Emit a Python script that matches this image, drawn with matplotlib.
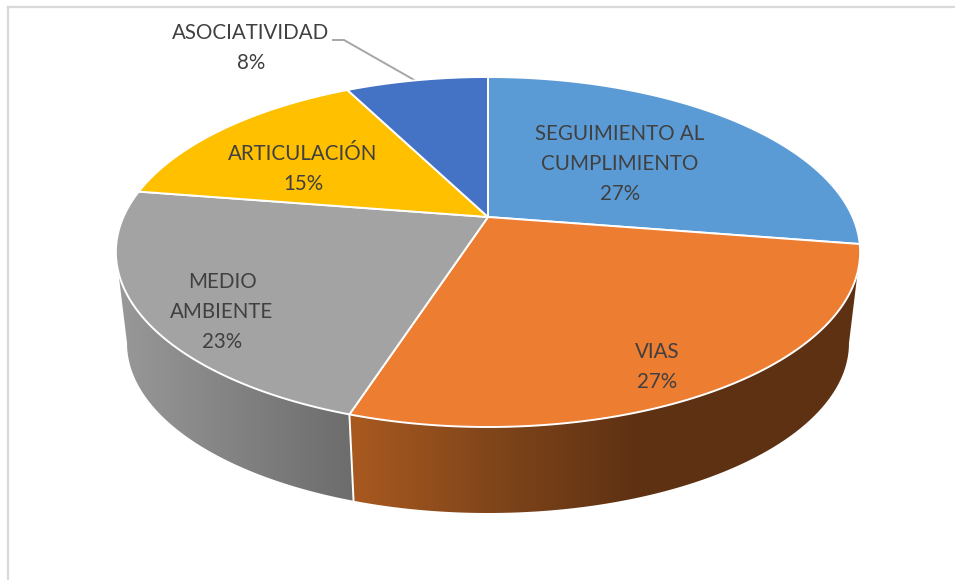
#!/usr/bin/env python3
"""3D-look pie chart, drawn in pixel coordinates of a 955x580 canvas."""

import matplotlib
matplotlib.use("Agg")
import matplotlib.pyplot as plt
import numpy as np
from matplotlib.patches import Polygon

categories = ["SEGUIMIENTO AL\nCUMPLIMIENTO", "VIAS", "MEDIO\nAMBIENTE", "ARTICULACIÓN", "ASOCIATIVIDAD"]
values = [27.49, 27.49, 22.51, 15.0, 7.51]
colors = ["#5B9BD5", "#ED7D31", "#A3A3A3", "#FFC000", "#4472C4"]

plt.rcParams["font.family"] = ["Lato", "DejaVu Sans"]

# perspective of the pie disc on screen
CX, CY = 488, 217
A, B, K = 364.6, 168.0, -0.2
# bottom rim of the wall
DEPTH_Y, DEPTH_S = 309.3, 0.97


def rim(t, bottom=False):
    """Screen position of the rim at clockwise angle t (radians from top)."""
    u, v = np.sin(t), -np.cos(t)
    d = 1 + K * v
    x, y = A * u / d, B * v / d
    if bottom:
        return CX + DEPTH_S * x, DEPTH_Y + DEPTH_S * y
    return CX + x, CY + y


def draw_wall(ax, t0, t1, stops):
    ts = np.linspace(t0, t1, 200)
    xt, yt = rim(ts)
    xb, yb = rim(ts, bottom=True)
    pts = np.vstack([np.column_stack([xt, yt]), np.column_stack([xb, yb])[::-1]])
    left, right = pts[:, 0].min(), pts[:, 0].max()
    top, bot = pts[:, 1].min(), pts[:, 1].max()
    xs = np.linspace(left, right, 256)
    pos = [s[0] for s in stops]
    rgb = np.array([matplotlib.colors.to_rgb(s[1]) for s in stops])
    img = np.stack([np.interp(xs, pos, rgb[:, i]) for i in range(3)], axis=1)[None, :, :]
    im = ax.imshow(img, extent=(left, right, bot, top), aspect="auto", zorder=2)
    patch = Polygon(pts, closed=True, facecolor="none", edgecolor="none", transform=ax.transData)
    ax.add_patch(patch)
    im.set_clip_path(patch)


fig = plt.figure(figsize=(9.55, 5.8), dpi=100)
ax = fig.add_axes([0, 0, 1, 1])

edges = 2 * np.pi * np.cumsum([0] + values) / sum(values)

# side walls run between the two silhouette angles of the rim
tangent = np.arccos(K)
draw_wall(ax, tangent, edges[2], [(354, "#A8591F"), (500, "#7E441A"), (640, "#5E3113"), (860, "#5E3113")])
draw_wall(ax, edges[2], 2 * np.pi - tangent, [(120, "#989898"), (354, "#6C6C6C")])

# white seam where the two walls meet
x0, y0 = rim(edges[2])
x1, y1 = rim(edges[2], bottom=True)
ax.plot([x0, x1], [y0, y1], color="white", lw=1.4, zorder=3)

# top of the pie
for i, c in enumerate(colors):
    ts = np.linspace(edges[i], edges[i + 1], 120)
    xs, ys = rim(ts)
    pts = np.vstack([[CX, CY], np.column_stack([xs, ys])])
    ax.add_patch(Polygon(pts, closed=True, facecolor=c, edgecolor="white", lw=1.4,
                         joinstyle="round", zorder=4))

# labels
label_pos = [(620, 164), (657, 367), (222, 312), (303, 169), (251, 48)]
for name, v, (x, y) in zip(categories, values, label_pos):
    ax.text(x, y, f"{name}\n{v:.0f}%", ha="center", va="center", fontsize=14.8,
            color="#404040", linespacing=1.62, zorder=5)

# leader line of the small slice
ax.plot([333, 344, 416], [40, 40, 81], color="#A6A6A6", lw=1.4, zorder=3)

# chart frame
ax.plot([8, 8], [580, 7], color="#D9D9D9", lw=1.6, zorder=1)
ax.plot([8, 955], [7, 7], color="#D9D9D9", lw=1.6, zorder=1)

ax.set_xlim(0, 955)
ax.set_ylim(580, 0)
ax.axis("off")

fig.savefig("out.png", dpi=100)
